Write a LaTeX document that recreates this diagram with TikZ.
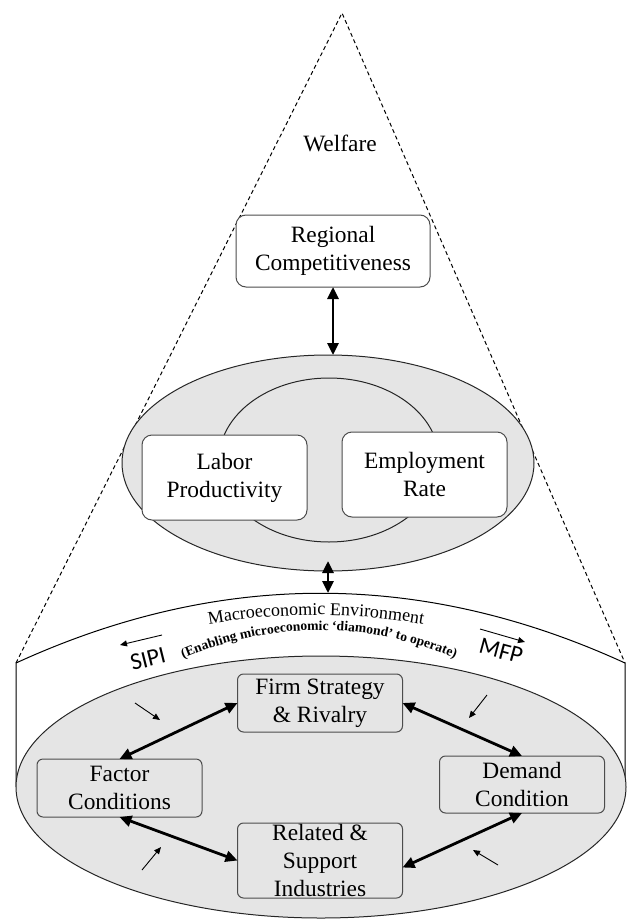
\documentclass[tikz,border=0pt]{standalone}
\usepackage{fontspec}
\setmainfont{Liberation Serif}
\newfontfamily\sipifont{Carlito}
\usetikzlibrary{shapes.geometric,arrows.meta,decorations.text}

\begin{document}
\begin{tikzpicture}[x=0.5pt, y=-0.5pt,
    font=\fontsize{11.7}{14}\selectfont,
    lbl/.style={draw=black!70, line width=0.5pt, rounded corners=3pt, align=center,
      minimum width=82.5pt, inner ysep=1pt, outer sep=0pt},
    ring/.style={ellipse, draw=black!85, line width=0.5pt, inner sep=0pt, outer sep=0pt},
    dbl/.style={line width=1.4pt, {Triangle[length=6pt,width=5.5pt]}-{Triangle[length=6pt,width=5.5pt]}},
    push/.style={line width=0.45pt, -{Triangle[length=3.5pt,width=3pt]}},
    cone/.style={line width=0.5pt, dash pattern=on 2pt off 1.5pt}]

  \def\greyfill{black!10}
  \useasboundingbox (0,0) rectangle (630,920);

  \coordinate (apex) at (342,13);
  \coordinate (cylL) at (16,663);
  \coordinate (cylR) at (625,663);
  \coordinate (cylTop) at (330,593);

  % cone
  \draw[cone] (cylL) -- (apex) -- (cylR);
  \node (welfare) at (340,143) {Welfare};
  \node[lbl, rounded corners=5pt, fill=white, minimum width=97pt, minimum height=36pt]
    (regional) at (333,251) {Regional\\Competitiveness};

  % labour market layer
  \node[ring, fill=\greyfill, minimum width=206pt, minimum height=108pt] (mid) at (328,463) {};
  \node[ring, minimum width=110pt, minimum height=82pt] (inner) at (329,460) {};
  \node[lbl, rounded corners=5pt, fill=white, minimum height=42.5pt] (labor) at (224.5,477.5) {Labor\\Productivity};
  \node[lbl, rounded corners=5pt, fill=white, minimum height=42.5pt] (employ) at (424.5,474.5) {Employment\\Rate};

  \draw[dbl] (regional.south) -- (regional.south |- mid.north);

  % macro cylinder (parabolic lid)
  \draw[line width=0.5pt] (16,787) -- (cylL) .. controls (219,570) and (422,570) .. (cylR) -- (625,787);
  \draw[dbl] ([yshift=5pt]mid.south) -- (mid.south |- cylTop);

  \path[decorate, decoration={text along path, text align=center,
      text={|\fontsize{9}{10}\selectfont|Macroeconomic Environment}}]
    (180,630) .. controls (271,610) and (361,610) .. (452,630);
  \path[decorate, decoration={text along path, text align=center,
      text={|\fontsize{6.8}{8}\selectfont\bfseries|(Enabling microeconomic ‘diamond’ to operate)}}]
    (160,669) .. controls (266,617) and (372,617) .. (478,669);

  \node[rotate=14, font=\sipifont\fontsize{12}{14}\selectfont] (sipi) at (148,659) {SIPI};
  \node[rotate=-15, font=\sipifont\fontsize{12}{14}\selectfont] (mfp) at (501,651) {MFP};
  \draw[push] (162,635) -- (120,645);
  \draw[push] (480,629) -- (525,642);

  % diamond
  \node[ring, fill=\greyfill, minimum width=305pt, minimum height=131pt] (micro) at (321,787) {};
  \node[lbl, minimum height=29pt] (firm) at (320,703) {Firm Strategy\\\& Rivalry};
  \node[lbl, minimum height=29pt] (factor) at (119.5,788) {Factor\\Conditions};
  \node[lbl, minimum height=28.5pt] (demand) at (522,784.5) {Demand\\Condition};
  \node[lbl, minimum height=37.5pt, inner ysep=0pt] (related) at (320,860.5) {Related \&\\Support\\Industries};

  \draw[dbl] (factor.north) -- (firm.west);
  \draw[dbl] (factor.south) -- (related.west);
  \draw[dbl] (firm.east) -- (demand.north);
  \draw[dbl] ([yshift=-3.5pt]related.east) -- (demand.south);

  \draw[push] (135,703) -- (160,720);
  \draw[push] (142,870) -- (161,847);
  \draw[push] (487,695) -- (469,718);
  \draw[push] (498,865) -- (473,850);
\end{tikzpicture}
\end{document}
